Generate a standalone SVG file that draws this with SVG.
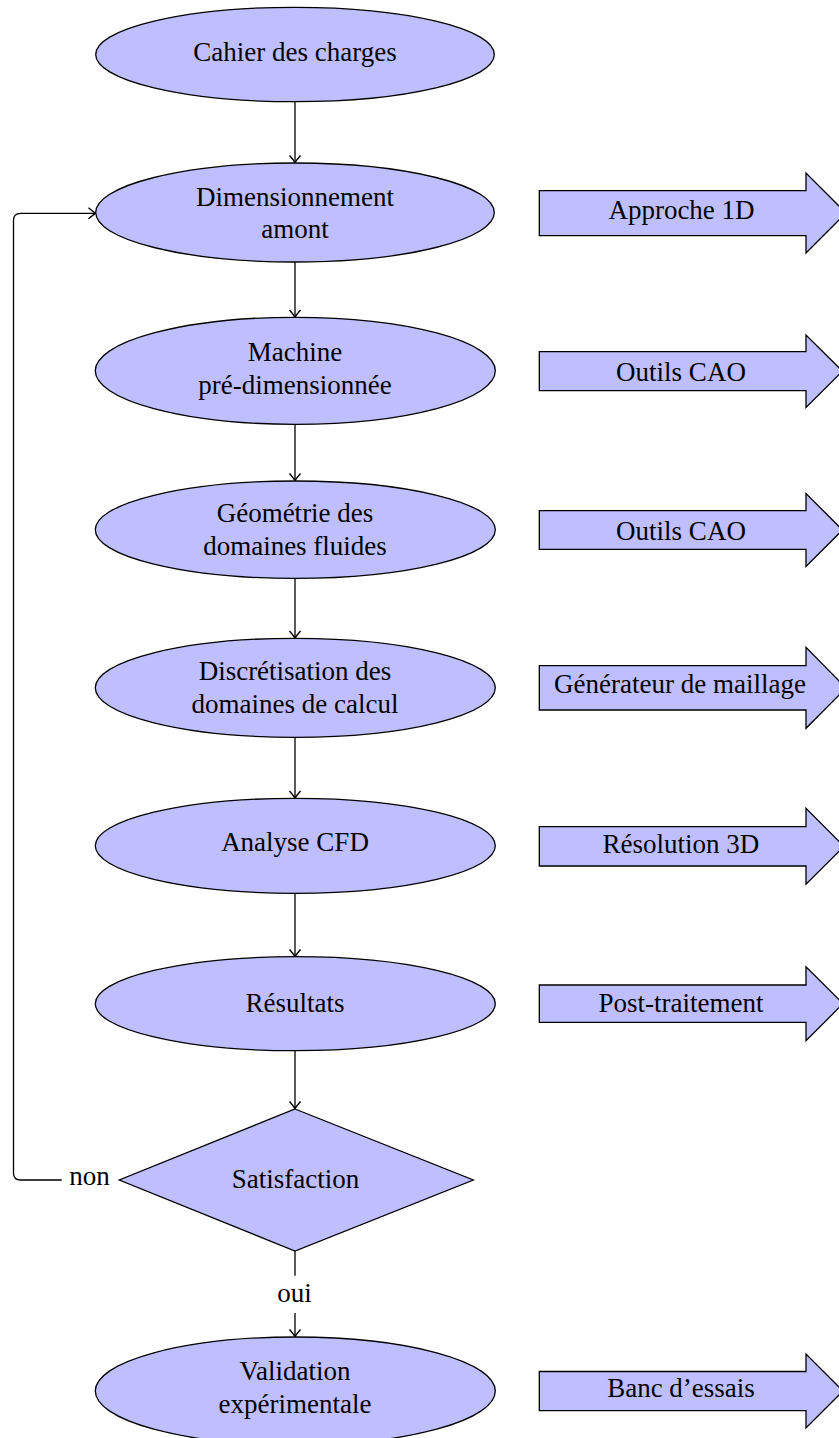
<svg xmlns="http://www.w3.org/2000/svg" width="839" height="1438" viewBox="0 0 839 1438">
<style>
.n{fill:#bfbfff;stroke:#000;stroke-width:1.3}
.t{font-family:"Liberation Serif","Times New Roman",serif;font-size:27px;fill:#000;text-anchor:middle}
.c{fill:none;stroke:#000;stroke-width:1.3}
</style>
<defs>
<marker id="ah" markerUnits="userSpaceOnUse" markerWidth="14" markerHeight="14" refX="10" refY="7" orient="auto" overflow="visible">
<path d="M3,1.5 Q7,5 10,7 Q7,9 3,12.5" fill="none" stroke="#000" stroke-width="1.4"/>
</marker>
</defs>
<rect width="839" height="1438" fill="#fff"/>
<g id="connectors">
<line class="c" x1="295" y1="101.7" x2="295" y2="162.5" marker-end="url(#ah)"/>
<line class="c" x1="295" y1="262" x2="295" y2="317" marker-end="url(#ah)"/>
<line class="c" x1="295" y1="424.3" x2="295" y2="480.5" marker-end="url(#ah)"/>
<line class="c" x1="295" y1="578.3" x2="295" y2="638" marker-end="url(#ah)"/>
<line class="c" x1="295" y1="737.3" x2="295" y2="798" marker-end="url(#ah)"/>
<line class="c" x1="295" y1="893.3" x2="295" y2="956.5" marker-end="url(#ah)"/>
<line class="c" x1="295" y1="1050.7" x2="295" y2="1108.5" marker-end="url(#ah)"/>
<line class="c" x1="295" y1="1251" x2="295" y2="1275.7"/>
<line class="c" x1="295" y1="1313" x2="295" y2="1336.5" marker-end="url(#ah)"/>
<path class="c" d="M61.7,1180 H20.5 Q13.5,1180 13.5,1173 V220.3 Q13.5,213.3 20.5,213.3 H95.5" marker-end="url(#ah)"/>
<text class="t" x="89.5" y="1185">non</text>
<text class="t" x="294.5" y="1301.7">oui</text>
</g>
<g id="cahier">
<ellipse class="n" cx="295" cy="54.5" rx="199.3" ry="47.2"/>
<text class="t" x="295" y="61">Cahier des charges</text>
</g>
<g id="dimensionnement">
<ellipse class="n" cx="295" cy="212.5" rx="199.3" ry="49.5"/>
<text class="t" x="295" y="205.7">Dimensionnement</text>
<text class="t" x="295" y="238.3">amont</text>
</g>
<g id="machine">
<ellipse class="n" cx="295.3" cy="370.8" rx="200" ry="53.5"/>
<text class="t" x="295" y="361">Machine</text>
<text class="t" x="295" y="394.3">pré-dimensionnée</text>
</g>
<g id="geometrie">
<ellipse class="n" cx="295.3" cy="529.7" rx="200" ry="48.7"/>
<text class="t" x="295" y="521.7">Géométrie des</text>
<text class="t" x="295" y="555">domaines fluides</text>
</g>
<g id="discretisation">
<ellipse class="n" cx="295.3" cy="687.8" rx="200" ry="49.5"/>
<text class="t" x="295" y="680">Discrétisation des</text>
<text class="t" x="295" y="713.3">domaines de calcul</text>
</g>
<g id="analyse">
<ellipse class="n" cx="295.3" cy="845.8" rx="200" ry="47.5"/>
<text class="t" x="295" y="851">Analyse CFD</text>
</g>
<g id="resultats">
<ellipse class="n" cx="295.3" cy="1003.7" rx="200" ry="47"/>
<text class="t" x="295" y="1011.7">Résultats</text>
</g>
<g id="satisfaction">
<polygon class="n" points="295,1109 473.3,1180 295,1251 119.3,1180"/>
<text class="t" x="295.5" y="1188.3">Satisfaction</text>
</g>
<g id="validation">
<ellipse class="n" cx="295.3" cy="1391" rx="200" ry="54"/>
<text class="t" x="295" y="1380">Validation</text>
<text class="t" x="295" y="1413.3">expérimentale</text>
</g>
<g id="approche">
<path class="n" d="M539.3,190.7 H806 V173 L846,213 L806,253 V235.7 H539.3 Z"/>
<text class="t" x="681.5" y="219.3">Approche 1D</text>
</g>
<g id="cao1">
<path class="n" d="M539.3,351.7 H806 V335 L842.5,371.2 L806,407.4 V390.7 H539.3 Z"/>
<text class="t" x="681" y="381">Outils CAO</text>
</g>
<g id="cao2">
<path class="n" d="M539.3,510.7 H806 V493.5 L842.5,530 L806,566.5 V549.3 H539.3 Z"/>
<text class="t" x="681" y="540">Outils CAO</text>
</g>
<g id="maillage">
<path class="n" d="M539.3,665.7 H806 V647.3 L846,688 L806,728.3 V710 H539.3 Z"/>
<text class="t" x="680" y="692.7">Générateur de maillage</text>
</g>
<g id="resolution">
<path class="n" d="M539.3,826.7 H806 V808.3 L844,846.3 L806,884.3 V866 H539.3 Z"/>
<text class="t" x="681" y="853.3">Résolution 3D</text>
</g>
<g id="post">
<path class="n" d="M539.3,985 H806 V966.7 L843,1003.7 L806,1040.7 V1022.4 H539.3 Z"/>
<text class="t" x="681" y="1011.7">Post-traitement</text>
</g>
<g id="banc">
<path class="n" d="M539.3,1371.5 H806 V1354 L843,1391 L806,1428 V1410.7 H539.3 Z"/>
<text class="t" x="681" y="1396.7">Banc d’essais</text>
</g>
</svg>
